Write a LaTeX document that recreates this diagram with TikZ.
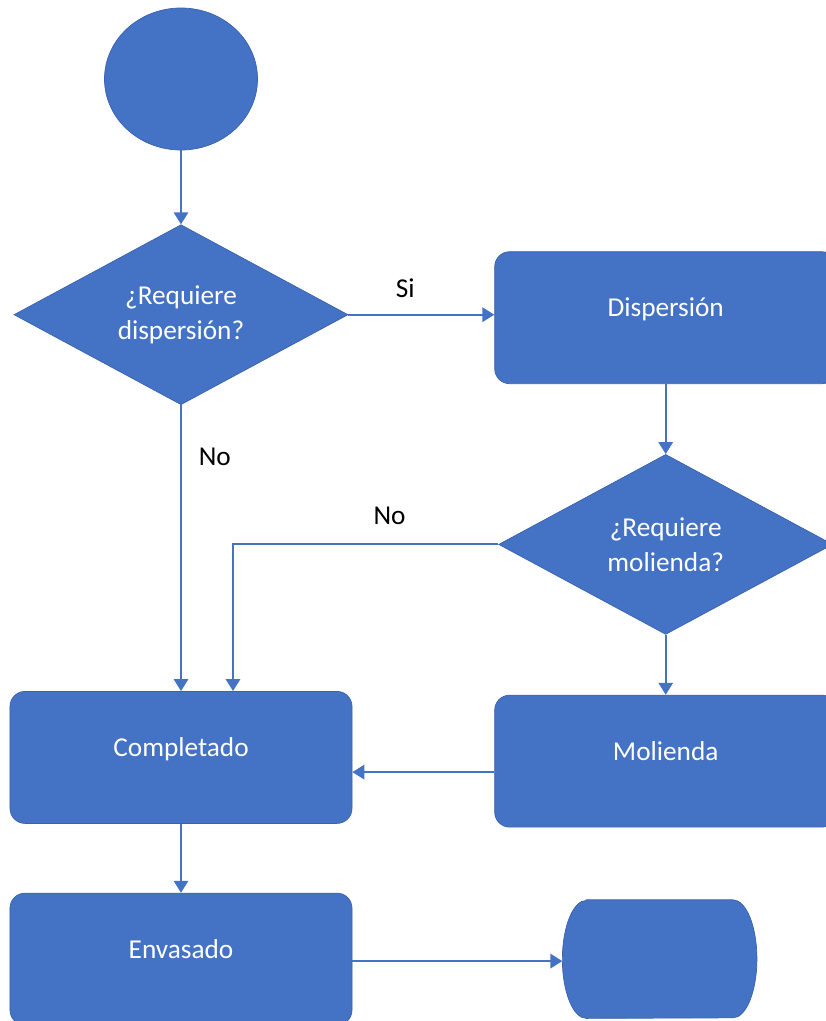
\documentclass[tikz,border=0pt]{standalone}
\usepackage{fontspec}
\setmainfont{Carlito}
\usetikzlibrary{positioning, arrows.meta, shapes.geometric}
\definecolor{flowblue}{HTML}{4472C4}
\definecolor{flowedge}{HTML}{3A62AE}

\begin{document}
\begin{tikzpicture}[
    base/.style={fill=flowblue, draw=flowedge, line width=0.5pt, text=white, font=\fontsize{19.4pt}{24.9pt}\selectfont, inner sep=0pt},
    box/.style={base, rectangle, rounded corners=0.375cm, minimum width=8.55cm, minimum height=3.3cm, text height=0.7em, text depth=0.85em},
    decision/.style={base, diamond, aspect=1.85, minimum width=8.35cm, minimum height=4.5cm, align=center},
    startnode/.style={base, ellipse, minimum width=3.825cm, minimum height=3.55cm},
    endnode/.style={rectangle, minimum width=4.85cm, minimum height=2.95cm, inner sep=0pt},
    conn/.style={draw=flowblue, line width=1.4pt, -{Triangle[length=0.3cm, width=0.36cm]}},
    lbl/.style={font=\fontsize{19.4pt}{24.9pt}\selectfont, text=black, inner sep=0pt}
]
    \useasboundingbox (0,0) rectangle (20.65,-25.525);

    % Left column
    \node[startnode] (start) at (4.525,-1.975) {};
    \node[decision] (q1) [below=1.85cm of start] {¿Requiere\\dispersión?};

    % Right column
    \node[box] (disp) [right=3.65cm of q1, yshift=-0.075cm] {Dispersión};
    \node[decision] (q2) [below=1.75cm of disp] {¿Requiere\\molienda?};
    \node[box] (mol) [below=1.5cm of q2] {Molienda};

    % Bottom
    \node[box] (comp) [below=7.15cm of q1] {Completado};
    \node[box] (env) [below=1.725cm of comp] {Envasado};
    \node[endnode] (fin) [right=5.25cm of env] {};
    \fill[flowblue, draw=flowedge, line width=0.5pt]
        ([xshift=0.6cm]fin.north west) -- ([xshift=-0.6cm]fin.north east)
        arc[start angle=90, end angle=-90, x radius=0.6cm, y radius=1.475cm]
        -- ([xshift=0.6cm]fin.south west)
        arc[start angle=270, end angle=90, x radius=0.6cm, y radius=1.475cm] -- cycle;

    % Connectors
    \draw[conn] (start) -- (q1);
    \draw[conn] (q1.east) -- node[lbl, above=0.41cm, pos=0.39] (si) {Si} (q1.east -| disp.west);
    \draw[conn] (q1.south) -- node[lbl, right=0.42cm, pos=0.18] (no1) {No} (comp.north);
    \draw[conn] (disp) -- (q2);
    \draw[conn] (q2.west) -| node[lbl, above=0.46cm, pos=0.205] (no2) {No} ([xshift=1.3cm]comp.north);
    \draw[conn] (q2) -- (mol);
    \draw[conn] ([yshift=-0.275cm]mol.west) coordinate (m1) -- (m1 -| comp.east);
    \draw[conn] (comp) -- (env);
    \draw[conn] ([yshift=-0.05cm]env.east) coordinate (e1) -- (e1 -| fin.west);

\end{tikzpicture}
\end{document}
